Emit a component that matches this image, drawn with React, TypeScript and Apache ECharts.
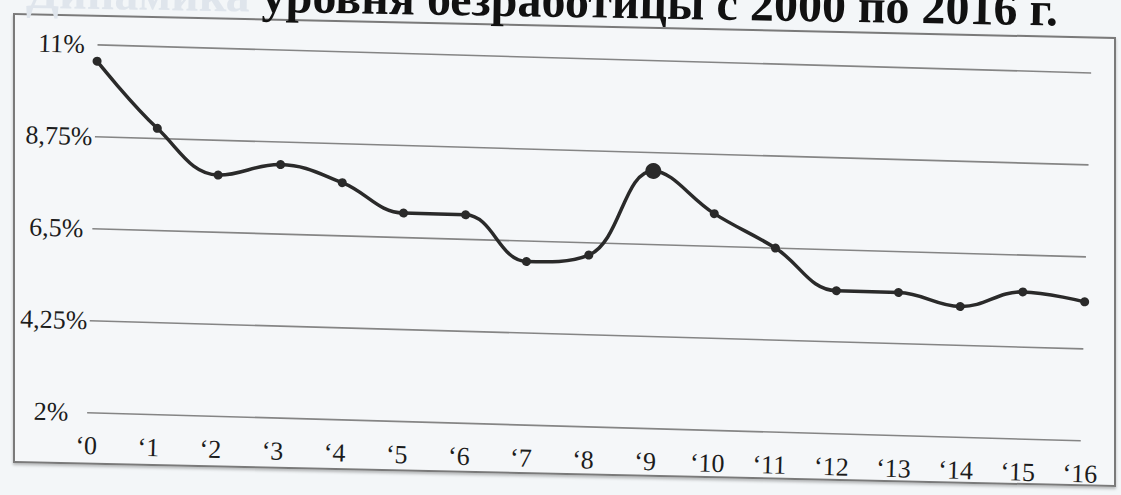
import React, { useEffect, useRef } from "react";
import * as echarts from "echarts";

const titleFaded = "Динамика";
const titleMain = "уровня безработицы с 2000 по 2016 г.";
const years = ["‘0", "‘1", "‘2", "‘3", "‘4", "‘5", "‘6", "‘7", "‘8", "‘9", "‘10", "‘11", "‘12", "‘13", "‘14", "‘15", "‘16"];
const unemployment = [10.6, 9.0, 7.9, 8.2, 7.8, 7.1, 7.1, 6.0, 6.2, 8.3, 7.3, 6.5, 5.5, 5.5, 5.2, 5.6, 5.4];
const highlightIndex = 9;
const yMin = 2;
const yMax = 11;
const yStep = 2.25;

const FONT = "'Liberation Serif', 'Times New Roman', serif";
const INK = "#2a2a2a";

export default function App() {
  const ref = useRef<HTMLDivElement>(null);

  useEffect(() => {
    if (!ref.current) return;
    const chart = echarts.init(ref.current, undefined, { renderer: "svg" });
    chart.setOption({
      animation: false,
      backgroundColor: "transparent",
      grid: { left: 92, right: 35, top: 98, bottom: 69, containLabel: false },
      graphic: [
        {
          type: "text",
          x: 1051,
          y: 35,
          rotation: 0.0108,
          style: {
            text: `{a|${titleFaded} }{b|${titleMain}}`,
            align: "right",
            verticalAlign: "middle",
            rich: {
              a: { fill: "#dfe5ec", fontSize: 48, fontWeight: "bold", fontFamily: FONT },
              b: { fill: "#111", fontSize: 48, fontWeight: "bold", fontFamily: FONT },
            },
          },
        },
      ],
      xAxis: {
        type: "category",
        data: years,
        boundaryGap: false,
        axisLine: { show: false },
        axisTick: { show: false },
        splitLine: { show: false },
        axisLabel: { color: "#1c1c1c", fontFamily: FONT, fontSize: 26, margin: 20 },
      },
      yAxis: {
        type: "value",
        min: yMin,
        max: yMax,
        interval: yStep,
        axisLine: { show: false },
        axisTick: { show: false },
        splitLine: { show: true, lineStyle: { color: "#858585", width: 1.6 } },
        axisLabel: {
          color: "#1c1c1c",
          fontFamily: FONT,
          fontSize: 26,
          margin: 36,
          align: "center",
          formatter: (v: number) => String(v).replace(".", ",") + "%",
        },
      },
      series: [
        {
          type: "line",
          data: unemployment.map((v, i) =>
            i === highlightIndex ? { value: v, symbolSize: 16 } : v
          ),
          smooth: 0.4,
          symbol: "circle",
          symbolSize: 9,
          itemStyle: { color: INK },
          lineStyle: { color: INK, width: 3.5 },
        },
      ],
    });
    return () => chart.dispose();
  }, []);

  return (
    <div
      style={{
        position: "fixed",
        left: 0,
        top: 0,
        width: 1121,
        height: 495,
        overflow: "hidden",
        background: "#f3f6f8",
      }}
    >
      <div
        style={{
          position: "absolute",
          left: 13,
          top: 25,
          width: 1103,
          height: 450,
          boxSizing: "border-box",
          border: "2px solid #7a7a7a",
          boxShadow: "0 2px 3px rgba(0,0,0,0.25)",
          transform: "skewY(1.25deg)",
          background: "#f5f7f9",
        }}
      />
      <div
        ref={ref}
        style={{
          position: "absolute",
          left: 0,
          top: -40,
          width: 1121,
          height: 535,
          transform: "rotate(1.62deg)",
          transformOrigin: "560px 287px",
        }}
      />
    </div>
  );
}
